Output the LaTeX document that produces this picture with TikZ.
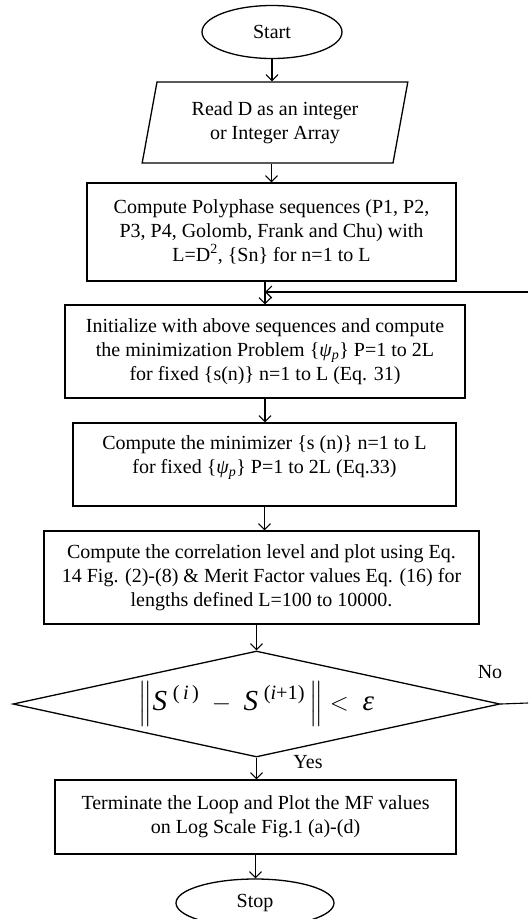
\documentclass[tikz,border=0pt]{standalone}
\usepackage{amsmath}
\usepackage{fontspec}
\setmainfont{Liberation Serif}
\usetikzlibrary{shapes.geometric,arrows.meta}
\newcommand{\ital}[1]{\text{\itshape #1}}
\begin{document}
\begin{tikzpicture}[x=1pt,y=-1pt]
\tikzstyle{every node}+=[inner sep=0pt,font=\fontsize{20}{23.8}\selectfont]
\tikzstyle{proc}=[draw=black,line width=1.3pt,rectangle,align=center]
\tikzstyle{term}=[draw=black,line width=1.3pt,ellipse,minimum width=140pt,minimum height=53pt]
\tikzstyle{io}=[draw=black,line width=1.3pt,trapezium,trapezium left angle=76,trapezium right angle=104,trapezium stretches=true,minimum width=266pt,minimum height=81pt,align=center]
\tikzstyle{dec}=[draw=black,line width=1.3pt,diamond,shape aspect=4.6,minimum width=487pt,minimum height=106pt,font=\fontsize{29}{31}\selectfont]
\tikzstyle{arr}=[black,line width=1.1pt,-{Straight Barb[length=6pt,width=12pt]}]
\useasboundingbox (0,0) rectangle (528,919);
\node[term] (start) at (272,32) {Start};
\node[io] (read) at (275,122.5) {Read D as an integer\\or Integer Array};
\node[proc,minimum width=369pt,minimum height=98pt] (poly) at (271.5,232) {Compute Polyphase sequences (P1, P2,\\P3, P4, Golomb, Frank and Chu) with\\L=D\textsuperscript{2}, \{Sn\} for n=1 to L};
\node[proc,minimum width=400pt,minimum height=93pt] (init) at (265,351.5) {Initialize with above sequences and compute\\the minimization Problem \{\textit{ψ\textsubscript{p}}\} P=1 to 2L\\for fixed \{s(n)\} n=1 to L (Eq. 31)};
\node[proc,minimum width=383pt,minimum height=83pt,text depth=20pt] (minim) at (264.5,464.5) {Compute the minimizer \{s (n)\} n=1 to L\\for fixed \{\textit{ψ\textsubscript{p}}\} P=1 to 2L (Eq.33)};
\node[proc,minimum width=435pt,minimum height=93pt] (corr) at (261.5,577.5) {Compute the correlation level and plot using Eq.\\14 Fig. (2)-(8) \& Merit Factor values Eq. (16) for\\lengths defined L=100 to 10000.};
\node[dec] (check) at (256.5,704) {$\left\|\ital{S}^{\;\text{(\,\itshape i\upshape\,)}} \;-\; \ital{S}^{\;\text{(\itshape i\upshape+1)}}\,\right\| <\; \ital{ε}$};
\node[proc,minimum width=401pt,minimum height=74pt] (plot) at (255.5,817) {Terminate the Loop and Plot the MF values\\on Log Scale Fig.1 (a)-(d)};
\node[term,minimum width=158pt,minimum height=48pt] (stop) at (255,903) {Stop};
\node (no) at (490,672) {No};
\node (yes) at (308,762) {Yes};
\coordinate (backin) at (528,292);
\coordinate (backout) at (528,703);
\draw[arr] (start) -- (start |- read.north);
\draw[arr] (read.south -| poly) -- (poly.north);
\draw[arr] (poly.south -| init) -- (init.north);
\draw[arr] (init) -- (init |- minim.north);
\draw[arr] (minim) -- (minim |- corr.north);
\draw[arr] (corr.south -| check) -- (check.north);
\draw[arr] (check) -- (check |- plot.north);
\draw[arr] (plot) -- (plot |- stop.north);
\draw[black,line width=1.1pt] (check.east) -- (backout);
\draw[arr] (backin) -- (backin -| init);
\end{tikzpicture}
\end{document}
